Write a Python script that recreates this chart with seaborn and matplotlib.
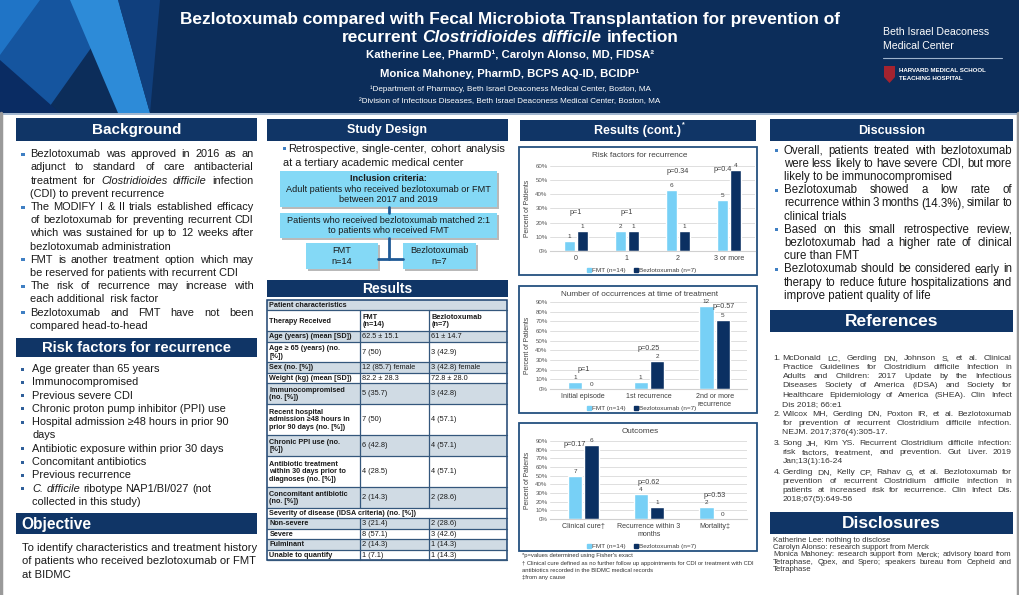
#poster: bezlotoxumab vs FMT for recurrent C. difficile
import numpy as np
import pandas as pd
import matplotlib
matplotlib.use("Agg")
import matplotlib.pyplot as plt
from matplotlib.patches import Rectangle, Polygon
import seaborn as sns

W, H = 1020, 595
NAVY = "#103566"
HEAD = "#0c2d5a"
FMT_C = "#77d0f6"
BEZ_C = "#0b3062"
BOX_C = "#84d9f6"
BUL_C = "#3f7fc3"
GRAY = "#d0dbe4"
TXT = "#1a1a1a"

#--- chart data (counts of patients) ---
n_fmt, n_bez = 14, 7
rf_cats = ["0", "1", "2", "3 or more"]
rf_fmt = [1, 2, 6, 5]
rf_bez = [1, 1, 1, 4]
rf_p = ["p=1", "p=1", "p=0.34", "p=0.4"]

occ_cats = ["Initial episode", "1st recurrence", "2nd or more\nrecurrence"]
occ_fmt = [1, 1, 12]
occ_bez = [0, 2, 5]
occ_p = ["p=1", "p=0.25", "p=0.57"]

out_cats = ["Clinical cure\u2020", "Recurrence within 3\nmonths", "Mortality\u2021"]
out_fmt = [7, 4, 2]
out_bez = [6, 1, 0]
out_p = ["p=0.17", "p=0.62", "p=0.53"]

#--- table data ---
tbl_label = ["Patient characteristics", "Therapy Received", "Age (years) (mean [SD])",
             "Age \u2265 65 (years) (no.\n[%])", "Sex (no. [%])", "Weight (kg) (mean [SD])",
             "Immunocompromised\n(no. [%])", "Recent hospital\nadmission \u226548 hours in\nprior 90 days (no. [%])",
             "Chronic PPI use (no.\n[%])", "Antibiotic treatment\nwithin 30 days prior to\ndiagnoses (no. [%])",
             "Concomitant antibiotic\n(no. [%])", "Severity of disease (IDSA criteria) (no. [%])",
             "Non-severe", "Severe", "Fulminant", "Unable to quantify"]
tbl_fmt = [None, "FMT\n(n=14)", "62.5 \u00b1 15.1", "7 (50)", "12 (85.7) female", "82.2 \u00b1 28.3",
           "5 (35.7)", "7 (50)", "6 (42.8)", "4 (28.5)", "2 (14.3)", None,
           "3 (21.4)", "8 (57.1)", "2 (14.3)", "1 (7.1)"]
tbl_bez = [None, "Bezlotoxumab\n(n=7)", "61 \u00b1 14.7", "3 (42.9)", "3 (42.8) female", "72.8 \u00b1 28.0",
           "3 (42.8)", "4 (57.1)", "4 (57.1)", "4 (57.1)", "2 (28.6)", None,
           "2 (28.6)", "3 (42.6)", "1 (14.3)", "1 (14.3)"]

#--- text blocks (one entry per printed line, _word_ = italic) ---
background = [
    ["Bezlotoxumab was approved in 2016 as an", "adjunct to standard of care antibacterial",
     "treatment for _Clostridioides_ _difficile_ infection", "(CDI) to prevent recurrence"],
    ["The MODIFY I & II trials established efficacy", "of bezlotoxumab for preventing recurrent CDI",
     "which was sustained for up to 12 weeks after", "bezlotoxumab administration"],
    ["FMT is another treatment option which may", "be reserved for patients with recurrent CDI"],
    ["The risk of recurrence may increase with", "each additional  risk factor"],
    ["Bezlotoxumab and FMT have not been", "compared head-to-head"],
]
risk_factors = [
    ["Age greater than 65 years"], ["Immunocompromised"], ["Previous severe CDI"],
    ["Chronic proton pump inhibitor (PPI) use"], ["Hospital admission \u226548 hours in prior 90", "days"],
    ["Antibiotic exposure within prior 30 days"], ["Concomitant antibiotics"], ["Previous recurrence"],
    ["_C._ _difficile_ ribotype NAP1/BI/027 (not", "collected in this study)"],
]
objective = ["To identify characteristics and treatment history",
             "of patients who received bezlotoxumab or FMT", "at BIDMC"]
discussion = [
    ["Overall, patients treated with bezlotoxumab", "were less likely to have severe CDI, but more",
     "likely to be immunocompromised"],
    ["Bezlotoxumab showed a low rate of", "recurrence within 3 months (14.3%), similar to", "clinical trials"],
    ["Based on this small retrospective review,", "bezlotoxumab had a higher rate of clinical", "cure than FMT"],
    ["Bezlotoxumab should be considered early in", "therapy to reduce future hospitalizations and",
     "improve patient quality of life"],
]
references = [
    ["McDonald LC, Gerding DN, Johnson S, et al. Clinical",
     "Practice Guidelines for Clostridium difficile Infection in",
     "Adults and Children: 2017 Update by the Infectious",
     "Diseases Society of America (IDSA) and Society for",
     "Healthcare Epidemiology of America (SHEA). Clin Infect", "Dis 2018; 66:e1"],
    ["Wilcox MH, Gerding DN, Poxton IR, et al. Bezlotoxumab",
     "for prevention of recurrent Clostridium difficile infection.", "NEJM. 2017;376(4):305-17."],
    ["Song JH, Kim YS. Recurrent Clostridium difficile infection:",
     "risk factors, treatment, and prevention. Gut Liver. 2019", "Jan;13(1):16-24"],
    ["Gerding DN, Kelly CP, Rahav G, et al. Bezlotoxumab for",
     "prevention of recurrent Clostridium difficile infection in",
     "patients at increased risk for recurrence. Clin Infect Dis.", "2018;67(5):649-56"],
]
disclosures = ["Katherine Lee: nothing to disclose", "Carolyn Alonso: research support from Merck",
               "Monica Mahoney: research support from Merck; advisory board from",
               "Tetraphase, Qpex, and Spero; speakers bureau from Cepheid and", "Tetraphase"]
footnotes = ["*p=values determined using Fisher's exact",
             "\u2020 Clinical cure defined as no further follow up appointments for CDI or treatment with CDI",
             "antibiotics recorded in the BIDMC medical records", "\u2021from any cause"]

sns.set_style("white")
plt.rcParams["font.family"] = ["Liberation Sans", "DejaVu Sans"]

fig = plt.figure(figsize=(W / 100, H / 100), dpi=100)
bg = fig.add_axes([0, 0, 1, 1])
bg.set_xlim(0, W)
bg.set_ylim(H, 0)
bg.axis("off")
R = fig.canvas.get_renderer()

def px_axes(x0, y0, x1, y1):
    return fig.add_axes([x0 / W, 1 - y1 / H, (x1 - x0) / W, (y1 - y0) / H])

#draw one line; word by word only when it has to be justified or has italics
def put_line(line, x0, y, size, x1=None, just=False, align="left", weight="normal", color=TXT):
    if "_" not in line and not just:
        bg.text(x0, y, line, fontsize=size, fontweight=weight, color=color, va="center", ha=align)
        return
    arts, ws = [], []
    for w in line.split(" "):
        st = "italic" if w.startswith("_") else "normal"
        t = bg.text(0, y, w.replace("_", ""), fontsize=size, fontstyle=st, fontweight=weight,
                    color=color, va="center", ha="left")
        arts.append(t)
        ws.append(t.get_window_extent(R).width if w else 0)
    sp = size * 100 / 72 * 0.278
    if just and len(arts) > 1:
        sp = (x1 - x0 - sum(ws)) / (len(arts) - 1)
    tot = sum(ws) + sp * (len(arts) - 1)
    x = x0 if align == "left" else x0 - tot / 2
    for t, w in zip(arts, ws):
        t.set_x(x)
        x += w + sp

def bullet(x, y, c=BUL_C, s=3.2):
    bg.add_patch(Rectangle((x, y - s / 2), s, s, color=c, lw=0))

def sec_bar(x0, x1, y0, y1, label, size, align="center"):
    bg.add_patch(Rectangle((x0, y0), x1 - x0, y1 - y0, color=NAVY, lw=0))
    if align == "center":
        bg.text((x0 + x1) / 2, (y0 + y1) / 2 + 0.5, label, color="white", fontsize=size,
                fontweight="bold", ha="center", va="center")
    else:
        bg.text(x0 + 5, (y0 + y1) / 2 + 0.5, label, color="white", fontsize=size,
                fontweight="bold", ha="left", va="center")

#--- header ---
bg.add_patch(Rectangle((0, 0), W, 113, color=HEAD, lw=0))
bg.add_patch(Polygon([(0, 0), (125, 0), (45, 113), (0, 113)], color="#15559f", lw=0))
bg.add_patch(Polygon([(70, 0), (118, 0), (150, 113), (118, 113)], color="#2d8bd8", lw=0))
bg.add_patch(Polygon([(0, 0), (40, 0), (0, 55)], color="#1f74c6", lw=0))
bg.add_patch(Polygon([(0, 60), (60, 113), (0, 113)], color="#0a2c63", lw=0))
bg.add_patch(Polygon([(118, 0), (160, 0), (150, 113)], color="#103f7d", lw=0))
bg.plot([0, W], [113.5, 113.5], color="#8fa8c6", lw=1.2)

put_line("Bezlotoxumab compared with Fecal Microbiota Transplantation for prevention of", 510, 19.5, 12.4,
         align="center", weight="bold", color="white")
put_line("recurrent _Clostridioides_ _difficile_ infection", 510, 37.5, 12.4, align="center",
         weight="bold", color="white")
bg.text(510, 55, "Katherine Lee, PharmD\u00b9, Carolyn Alonso, MD, FIDSA\u00b2", color="white",
        fontsize=8.2, fontweight="bold", ha="center", va="center")
bg.text(510, 74, "Monica Mahoney, PharmD, BCPS AQ-ID, BCIDP\u00b9", color="white",
        fontsize=8.2, fontweight="bold", ha="center", va="center")
bg.text(510, 89, "\u00b9Department of Pharmacy, Beth Israel Deaconess Medical Center, Boston, MA",
        color="white", fontsize=5.9, ha="center", va="center")
bg.text(510, 102, "\u00b2Division of Infectious Diseases, Beth Israel Deaconess Medical Center, Boston, MA",
        color="white", fontsize=5.9, ha="center", va="center")
bg.text(883, 32, "Beth Israel Deaconess", color="white", fontsize=7.6, ha="left", va="center")
bg.text(883, 46, "Medical Center", color="white", fontsize=7.6, ha="left", va="center")
bg.plot([883, 1002], [57.5, 57.5], color="#9fb3cc", lw=0.8)
bg.add_patch(Polygon([(884, 66), (895, 66), (895, 77), (889.5, 83), (884, 77)], color="#a4232f", lw=0))
bg.text(899, 71, "HARVARD MEDICAL SCHOOL", color="white", fontsize=4.4, fontweight="bold", va="center")
bg.text(899, 79, "TEACHING HOSPITAL", color="white", fontsize=4.4, fontweight="bold", va="center")

#page frame
bg.plot([1.5, 1.5], [113, H], color="#9a9a9a", lw=2.5)
bg.plot([1018.5, 1018.5], [113, H], color="#9a9a9a", lw=2.5)

#--- left column ---
sec_bar(16, 257, 118, 141, "Background", 11)
k = 0
for par in background:
    bullet(21.5, 154.3 + 13.2 * k)
    for i, ln in enumerate(par):
        put_line(ln, 30.5, 154.3 + 13.2 * k, 7.9, 253.5, just=i < len(par) - 1)
        k += 1

sec_bar(16, 257, 338, 357, "Risk factors for recurrence", 10.6)
k = 0
for item in risk_factors:
    bullet(21.5, 369 + 13.3 * k, c="#2f5f9a", s=3)
    for ln in item:
        put_line(ln, 32.3, 369 + 13.3 * k, 7.9)
        k += 1

sec_bar(16, 257, 513, 534, "Objective", 11.2, align="left")
for i, ln in enumerate(objective):
    put_line(ln, 22.3, 548 + 13.5 * i, 8.1)

#--- study design ---
sec_bar(267, 508, 119, 141, "Study Design", 9)
bullet(283, 148.5)
put_line("Retrospective, single-center, cohort analysis", 288, 148.5, 7.9, 505, just=True)
put_line("at a tertiary academic medical center", 283, 162.5, 7.9)

def sd_box(x0, y0, x1, y1, lines, bold_first=False):
    bg.add_patch(Rectangle((x0 + 2, y0 + 2), x1 - x0, y1 - y0, color="#b9b9b9", lw=0))
    bg.add_patch(Rectangle((x0, y0), x1 - x0, y1 - y0, color=BOX_C, lw=0))
    n = len(lines)
    cy = (y0 + y1) / 2
    for i, ln in enumerate(lines):
        bg.text((x0 + x1) / 2, cy + (i - (n - 1) / 2) * 10.8, ln, fontsize=6.6, ha="center", va="center",
                color=TXT, fontweight="bold" if (bold_first and i == 0) else "normal")

bg.plot([389, 389], [207, 213], color="#1f5a96", lw=2)
bg.plot([389, 389], [238, 259], color="#1f5a96", lw=2)
bg.plot([378, 403], [259, 259], color="#1f5a96", lw=2)
sd_box(280, 171, 497, 207, ["Inclusion criteria:", "Adult patients who received bezlotoxumab or FMT",
                            "between 2017 and 2019"], bold_first=True)
sd_box(280, 213, 497, 238, ["Patients who received bezlotoxumab matched 2:1", "to patients who received FMT"])
sd_box(306, 243, 378, 269, ["FMT", "n=14"])
sd_box(403, 243, 476, 269, ["Bezlotoxumab", "n=7"])

#--- results table ---
sec_bar(267, 508, 280, 297, "Results", 10)
TX0, TX1, C1, C2 = 267, 507, 360, 429
ROW_H = 10.4
y = 300
for i, (lab, a, b) in enumerate(zip(tbl_label, tbl_fmt, tbl_bez)):
    nl = max(s.count("\n") + 1 for s in (lab, a or "", b or ""))
    h = ROW_H * nl
    if i % 2 == 0:
        bg.add_patch(Rectangle((TX0, y), TX1 - TX0, h, color=GRAY, lw=0))
    bg.plot([TX0, TX1], [y + h, y + h], color="#34577c", lw=0.9)
    cy = y + h / 2 + 0.3
    bg.text(TX0 + 2.5, cy, lab, fontsize=5.2, fontweight="bold", va="center", ha="left",
            linespacing=1.15, color=TXT)
    if a is not None:
        wt = "bold" if i == 1 else "normal"
        bg.text(C1 + 2.5, cy, a, fontsize=5.3, fontweight=wt, va="center", ha="left", linespacing=1.15, color=TXT)
        bg.text(C2 + 2.5, cy, b, fontsize=5.3, fontweight=wt, va="center", ha="left", linespacing=1.15, color=TXT)
        bg.plot([C1, C1], [y, y + h], color="#34577c", lw=0.9)
        bg.plot([C2, C2], [y, y + h], color="#34577c", lw=0.9)
    y += h
bg.add_patch(Rectangle((TX0, 300), TX1 - TX0, y - 300, fill=False, ec="#1d4370", lw=1.1))

#--- charts ---
sec_bar(520, 756, 120, 141, "Results (cont.)", 9)
bg.text(682, 125, "*", color="white", fontsize=5, fontweight="bold", ha="left", va="center")

def chart(frame, box, title, cats, fmt_n, bez_n, pv, ymax, leg_y):
    fx0, fy0, fx1, fy1 = frame
    bg.add_patch(Rectangle((fx0, fy0), fx1 - fx0, fy1 - fy0, fill=False, ec="#24507f", lw=1.3))
    bg.text(640, fy0 + 8.5, title, fontsize=5.9, color="#404040", ha="center", va="center")
    pf = [100 * v / n_fmt for v in fmt_n]
    pb = [100 * v / n_bez for v in bez_n]
    df = pd.DataFrame({"cat": cats * 2,
                       "grp": ["FMT (n=14)"] * len(cats) + ["Bezlotoxumab (n=7)"] * len(cats),
                       "pct": pf + pb})
    ax = px_axes(*box)
    ax.set_facecolor("none")
    sns.barplot(data=df, x="cat", y="pct", hue="grp", palette=[FMT_C, BEZ_C], width=0.5, gap=0.14,
                errorbar=None, ax=ax, legend=False, saturation=1)
    ax.set_ylim(0, ymax)
    ax.set_yticks(np.arange(0, ymax + 1, 10))
    ax.set_yticklabels([f"{v}%" for v in range(0, ymax + 1, 10)])
    ax.yaxis.grid(True, color="#d9d9d9", lw=0.6)
    ax.set_axisbelow(True)
    for s in ["left", "top", "right"]:
        ax.spines[s].set_visible(False)
    ax.spines["bottom"].set_color("#d0d0d0")
    ax.tick_params(axis="y", length=0, pad=2, labelsize=4.4, labelcolor="#595959")
    ax.tick_params(axis="x", length=0, pad=3, labelsize=5.1, labelcolor="#404040")
    ax.set_xlabel("")
    ax.set_ylabel("Percent of Patients", fontsize=4.9, color="#404040", labelpad=3)
    ax.bar_label(ax.containers[0], labels=[str(v) for v in fmt_n], fontsize=4.6, padding=1.5, color="#404040")
    ax.bar_label(ax.containers[1], labels=[str(v) for v in bez_n], fontsize=4.6, padding=1.5, color="#404040")
    #p-values above the pair, or over the shorter bar when there is no room
    for i, p in enumerate(pv):
        top = max(pf[i], pb[i])
        if top + 13 <= ymax - 3:
            ax.text(i, top + 13, p, fontsize=5.2, color="#404040", ha="center", va="center")
        else:
            dx = -0.13 if pf[i] < pb[i] else 0.13
            ax.text(i + dx, top, p, fontsize=5.2, color="#404040", ha="center", va="center")
    hnd = [Rectangle((0, 0), 1, 1, color=FMT_C), Rectangle((0, 0), 1, 1, color=BEZ_C)]
    fig.legend(hnd, ["FMT (n=14)", "Bezlotoxumab (n=7)"], loc="center", bbox_to_anchor=(642, leg_y),
               bbox_transform=bg.transData, ncol=2, frameon=False, fontsize=4.6, handlelength=0.6,
               handleheight=0.6, handletextpad=0.2, columnspacing=1.3, borderpad=0, labelcolor="#404040")

chart((519, 147, 757, 275), (550.5, 165.7, 754.5, 251), "Risk factors for recurrence",
      rf_cats, rf_fmt, rf_bez, rf_p, 60, 270.5)
chart((519, 286, 757, 413), (550.5, 302, 747.5, 389), "Number of occurrences at time of treatment",
      occ_cats, occ_fmt, occ_bez, occ_p, 90, 408.5)
chart((519, 423, 757, 551), (550.5, 441, 747.5, 519), "Outcomes",
      out_cats, out_fmt, out_bez, out_p, 90, 546.5)

for i, ln in enumerate(footnotes):
    bg.text(522, 556 + [0, 7, 14.5, 22][i], ln, fontsize=4.2, color="#333333", ha="left", va="center")

#--- right column ---
sec_bar(770, 1013, 119, 141, "Discussion", 9)
k = 0
for par in discussion:
    bullet(775, 150.7 + 13.2 * k)
    for i, ln in enumerate(par):
        put_line(ln, 784, 150.7 + 13.2 * k, 8.3, 1012, just=i < len(par) - 1)
        k += 1

sec_bar(770, 1013, 310, 332, "References", 12.5)
ref_y = [358.3, 414, 443.3, 472.3]
for j, ref in enumerate(references):
    bg.text(773.5, ref_y[j], f"{j + 1}.", fontsize=6.1, color="#333333", ha="left", va="center")
    for i, ln in enumerate(ref):
        put_line(ln, 782.5, ref_y[j] + 9.2 * i, 6.1, 1012, just=i < len(ref) - 1, color="#333333")

sec_bar(770, 1013, 512, 534, "Disclosures", 12.5)
for i, ln in enumerate(disclosures):
    put_line(ln, 773, 540 + 7.4 * i, 5.6, 1012, just=i in (2, 3), color="#333333")

fig.savefig("out.png", dpi=100)
